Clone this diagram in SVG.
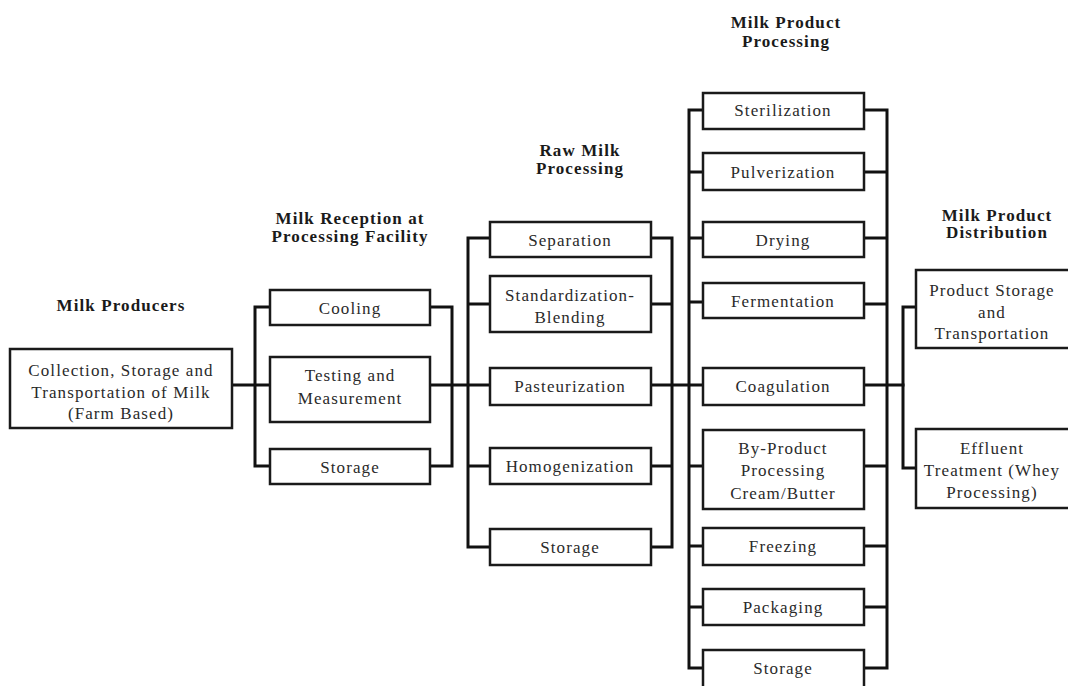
<svg xmlns="http://www.w3.org/2000/svg" width="1068" height="686" viewBox="0 0 1068 686">
<style>
.box{fill:#fff;stroke:#1a1a1a;stroke-width:2.5}
.t{font-family:"Liberation Serif","Times New Roman",serif;font-size:17px;letter-spacing:1.1px;fill:#2a2a2a;text-anchor:middle}
.h{font-family:"Liberation Serif","Times New Roman",serif;font-size:17px;letter-spacing:1.1px;font-weight:bold;fill:#1a1a1a;text-anchor:middle}
.c{fill:none;stroke:#111;stroke-width:3;stroke-linecap:square}
</style>
<rect width="1068" height="686" fill="#fff"/>
<g id="titles">
<text class="h" x="121" y="311">Milk Producers</text>
<text class="h" x="350" y="224">Milk Reception at</text>
<text class="h" x="350" y="242">Processing Facility</text>
<text class="h" x="580" y="156">Raw Milk</text>
<text class="h" x="580" y="174">Processing</text>
<text class="h" x="786" y="28">Milk Product</text>
<text class="h" x="786" y="47">Processing</text>
<text class="h" x="997" y="221">Milk Product</text>
<text class="h" x="997" y="238">Distribution</text>
</g>
<g id="connectors">
<path class="c" d="M232,385H270"/>
<path class="c" d="M255,307V466M255,307H270M255,466H270"/>
<path class="c" d="M452,307V466M430,307H452M430,466H452M430,385H490"/>
<path class="c" d="M468,238V547M468,238H490M468,304H490M468,466H490M468,547H490"/>
<path class="c" d="M672,238V547M651,238H672M651,304H672M651,466H672M651,547H672M651,385H703"/>
<path class="c" d="M689,110V668M689,110H703M689,172H703M689,238H703M689,302H703M689,466H703M689,546H703M689,607H703M689,668H703"/>
<path class="c" d="M887,110V668M864,110H887M864,172H887M864,238H887M864,304H887M864,466H887M864,546H887M864,607H887M864,668H887M864,385H903"/>
<path class="c" d="M903,307V468M903,307H916M903,468H916"/>
</g>
<g id="producer">
<rect class="box" x="10" y="349" width="222" height="79"/>
<text class="t" x="121" y="376">Collection, Storage  and</text>
<text class="t" x="121" y="398">Transportation of Milk</text>
<text class="t" x="121" y="419">(Farm Based)</text>
</g>
<g id="cooling"><rect class="box" x="270" y="290" width="160" height="35"/><text class="t" x="350" y="314">Cooling</text></g>
<g id="testing"><rect class="box" x="270" y="357" width="160" height="65"/><text class="t" x="350" y="381">Testing and</text><text class="t" x="350" y="404">Measurement</text></g>
<g id="storage1"><rect class="box" x="270" y="449" width="160" height="35"/><text class="t" x="350" y="473">Storage</text></g>
<g id="separation"><rect class="box" x="490" y="222" width="161" height="35"/><text class="t" x="570" y="246">Separation</text></g>
<g id="standardization"><rect class="box" x="490" y="276" width="161" height="56"/><text class="t" x="570" y="301">Standardization-</text><text class="t" x="570" y="323">Blending</text></g>
<g id="pasteurization"><rect class="box" x="490" y="368" width="161" height="37"/><text class="t" x="570" y="392">Pasteurization</text></g>
<g id="homogenization"><rect class="box" x="490" y="448" width="161" height="36"/><text class="t" x="570" y="472">Homogenization</text></g>
<g id="storage2"><rect class="box" x="490" y="529" width="161" height="36"/><text class="t" x="570" y="553">Storage</text></g>
<g id="sterilization"><rect class="box" x="703" y="93" width="161" height="36"/><text class="t" x="783" y="116">Sterilization</text></g>
<g id="pulverization"><rect class="box" x="703" y="153" width="161" height="37"/><text class="t" x="783" y="178">Pulverization</text></g>
<g id="drying"><rect class="box" x="703" y="222" width="161" height="35"/><text class="t" x="783" y="246">Drying</text></g>
<g id="fermentation"><rect class="box" x="703" y="283" width="161" height="35"/><text class="t" x="783" y="307">Fermentation</text></g>
<g id="coagulation"><rect class="box" x="703" y="368" width="161" height="37"/><text class="t" x="783" y="392">Coagulation</text></g>
<g id="byproduct"><rect class="box" x="703" y="430" width="161" height="79"/><text class="t" x="783" y="454">By-Product</text><text class="t" x="783" y="476">Processing</text><text class="t" x="783" y="499">Cream/Butter</text></g>
<g id="freezing"><rect class="box" x="703" y="528" width="161" height="37"/><text class="t" x="783" y="552">Freezing</text></g>
<g id="packaging"><rect class="box" x="703" y="589" width="161" height="36"/><text class="t" x="783" y="613">Packaging</text></g>
<g id="storage3"><rect class="box" x="703" y="650" width="161" height="45"/><text class="t" x="783" y="674">Storage</text></g>
<g id="productstorage"><rect class="box" x="916" y="270" width="160" height="78"/><text class="t" x="992" y="296">Product Storage</text><text class="t" x="992" y="318">and</text><text class="t" x="992" y="339">Transportation</text></g>
<g id="effluent"><rect class="box" x="916" y="429" width="160" height="79"/><text class="t" x="992" y="454">Effluent</text><text class="t" x="992" y="476">Treatment (Whey</text><text class="t" x="992" y="498">Processing)</text></g>
</svg>
